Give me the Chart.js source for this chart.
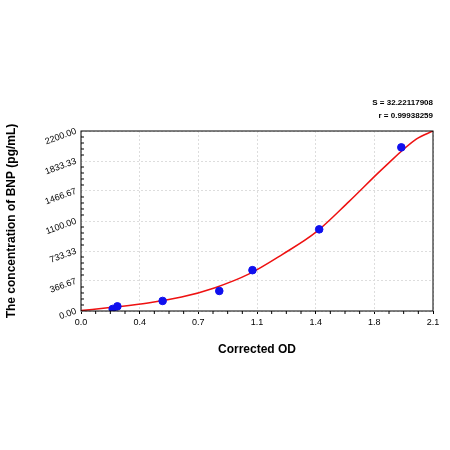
<!DOCTYPE html>
<html><head><script src="https://cdn.jsdelivr.net/npm/chart.js@4/dist/chart.umd.min.js"></script>
<style>body{margin:0;background:#fff}#w{width:450px;height:450px}</style></head>
<body><div id="w"><canvas id="c"></canvas></div>
<script>
const pointX=[0.189,0.217,0.487,0.825,1.023,1.421,1.911];
const pointY=[25,57,123,245,499,998,2000];
const curveX=[0,0.2,0.4,0.6,0.8,1.0,1.2,1.4,1.6,1.8,2.0,2.1];
const curveY=[5,48,98,170,285,450,690,960,1340,1740,2100,2200];
const xTicks=[0,0.35,0.7,1.05,1.4,1.75,2.1];
const yTicks=[0,366.67,733.33,1100,1466.67,1833.33,2200];
const statLines=['S = 32.22117908','r = 0.99938259'];
const F='Arial, "Liberation Sans", sans-serif';
const deco={id:'deco',afterDraw(ch){
 const c=ch.ctx,a=ch.chartArea,ys=ch.scales.y,xs=ch.scales.x;
 c.save();c.strokeStyle='#000';c.lineWidth=1;c.strokeRect(a.left,a.top,a.right-a.left,a.bottom-a.top);
 c.beginPath();
 for(let i=0;i<yTicks.length-1;i++)for(let k=1;k<5;k++){const y=ys.getPixelForValue(yTicks[i]+(yTicks[i+1]-yTicks[i])*k/5);c.moveTo(a.left,y);c.lineTo(a.left+3,y);}
 for(let i=0;i<xTicks.length-1;i++)for(let k=1;k<4;k++){const x=xs.getPixelForValue(xTicks[i]+0.35*k/4);c.moveTo(x,a.bottom);c.lineTo(x,a.bottom+3);}
 c.stroke();
 c.fillStyle='#000';c.font='9px '+F;
 yTicks.forEach(v=>{const y=ys.getPixelForValue(v);c.save();c.translate(a.left-5,y);c.rotate(-Math.PI/9);c.textAlign='right';c.textBaseline='middle';c.fillText(v.toFixed(2),0,0);c.restore();});
 c.font='bold 8px '+F;c.textAlign='right';c.textBaseline='middle';
 c.fillText(statLines[0],a.right,103);c.fillText(statLines[1],a.right,116);
 c.restore();}};
new Chart(document.getElementById('c'),{
 data:{datasets:[
  {type:'scatter',data:pointX.map((x,i)=>({x,y:pointY[i]})),backgroundColor:'#1010ee',borderColor:'#1010ee',pointRadius:3.8,order:1},
  {type:'line',data:curveX.map((x,i)=>({x,y:curveY[i]})),borderColor:'#ee1111',borderWidth:1.5,pointRadius:0,cubicInterpolationMode:'monotone',order:2}
 ]},
 options:{animation:false,responsive:true,maintainAspectRatio:false,
  layout:{padding:{left:0,right:17,top:131,bottom:89}},
  plugins:{legend:{display:false},tooltip:{enabled:false}},
  scales:{
   x:{type:'linear',min:0,max:2.1,afterBuildTicks(s){s.ticks=xTicks.map(v=>({value:v}));},afterFit(s){s.height=50;},
    ticks:{font:{size:9,family:F},color:'#000',maxRotation:0,callback:v=>(v+1e-9).toFixed(1)},
    grid:{color:'#ddd',tickLength:3,tickColor:'#000',drawTicks:true},border:{dash:[2,2],display:false},
    title:{display:true,text:'Corrected OD',font:{size:12,weight:'bold',family:F},color:'#000',padding:{top:10}}},
   y:{type:'linear',min:0,max:2200,afterBuildTicks(s){s.ticks=yTicks.map(v=>({value:v}));},afterFit(s){s.width=81;},
    ticks:{color:'rgba(0,0,0,0)',font:{size:8}},
    grid:{color:'#ddd',drawTicks:false},border:{dash:[2,2],display:false},
    title:{display:true,text:'The concentration of BNP (pg/mL)',font:{size:12,weight:'bold',family:F},color:'#000',padding:{bottom:2}}}
  }},
 plugins:[deco]});
</script></body></html>
